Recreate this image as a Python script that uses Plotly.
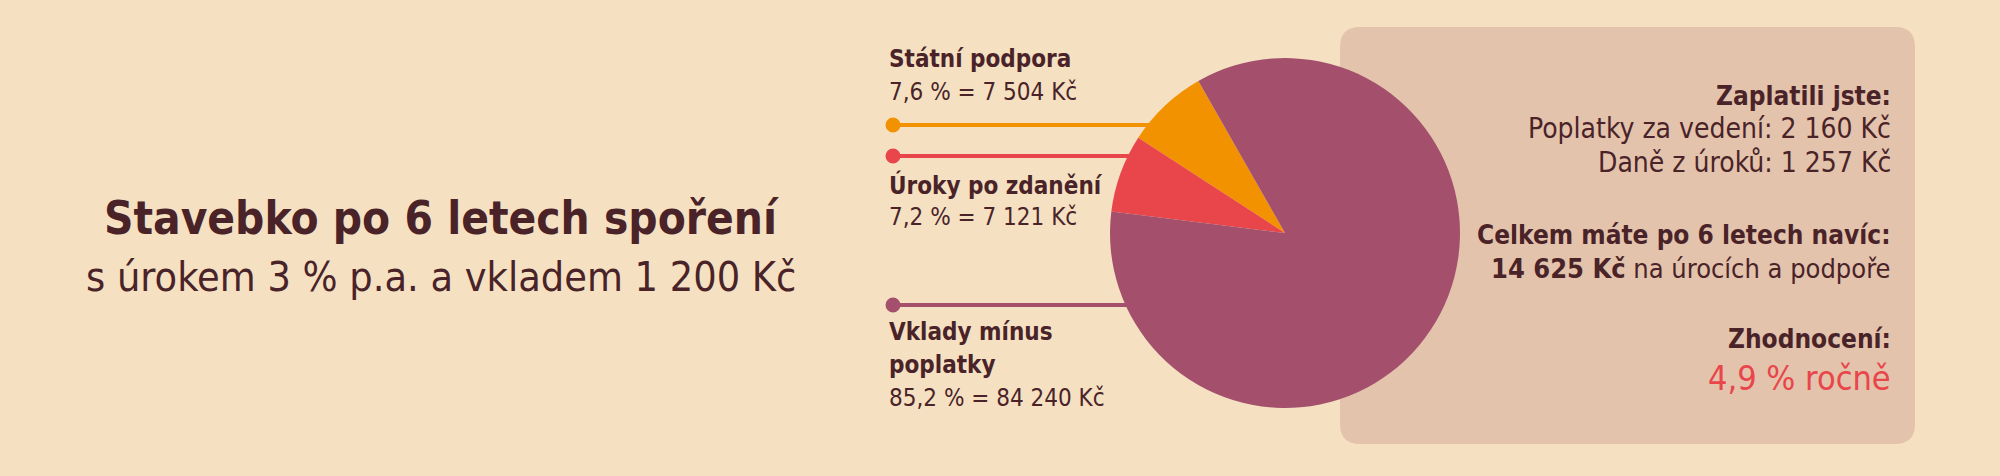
import math
import plotly.graph_objects as go

W, H = 2000, 476

# ---- data ----
slice_names = ["Státní podpora", "Úroky po zdanění", "Vklady mínus<br>poplatky"]
slice_values = [7504, 7121, 84240]          # Kč
slice_pct_text = ["7,6 %", "7,2 %", "85,2 %"]
slice_kc_text = ["7 504 Kč", "7 121 Kč", "84 240 Kč"]
slice_colors = ["#F39200", "#E8464B", "#A4506D"]

title_main = "Stavebko po 6 letech spoření"
title_sub = "s úrokem 3 % p.a. a vkladem 1 200 Kč"

paid_head = "Zaplatili jste:"
paid_lines = ["Poplatky za vedení: 2 160 Kč", "Daně z úroků: 1 257 Kč"]
total_head = "Celkem máte po 6 letech navíc:"
total_amount = "14 625 Kč"
total_rest = " na úrocích a podpoře"
yield_head = "Zhodnocení:"
yield_value = "4,9 % ročně"

# ---- style ----
BG = "#F5E1C2"
BOX = "#E3C3AC"
DARK = "#4A2329"
RED = "#E8464B"
FONT = "DejaVu Sans Condensed, DejaVu Sans, sans-serif"

def px(x):
    return x / W

def py(y):
    return 1 - y / H

cx, cy, r = 1285, 233, 175

fig = go.Figure()
fig.add_trace(go.Pie(
    values=slice_values,
    labels=[n.replace("<br>", " ") for n in slice_names],
    marker=dict(colors=slice_colors, line=dict(width=0)),
    sort=False,
    direction="counterclockwise",
    rotation=-57,
    textinfo="none",
    hoverinfo="label+value",
    showlegend=False,
    domain=dict(x=[px(cx - r), px(cx + r)], y=[py(cy + r), py(cy - r)]),
))

shapes = []
annotations = []

# right info box with rounded corners
bx0, bx1, by0, by1, rad = 1340, 1915, 27, 444, 20
path = (f"M {px(bx0 + rad)},{py(by0)} L {px(bx1 - rad)},{py(by0)} "
        f"Q {px(bx1)},{py(by0)} {px(bx1)},{py(by0 + rad)} "
        f"L {px(bx1)},{py(by1 - rad)} Q {px(bx1)},{py(by1)} {px(bx1 - rad)},{py(by1)} "
        f"L {px(bx0 + rad)},{py(by1)} Q {px(bx0)},{py(by1)} {px(bx0)},{py(by1 - rad)} "
        f"L {px(bx0)},{py(by0 + rad)} Q {px(bx0)},{py(by0)} {px(bx0 + rad)},{py(by0)} Z")
shapes.append(dict(type="path", path=path, xref="paper", yref="paper", layer="below",
                   fillcolor=BOX, line=dict(width=0)))

# leader lines with dots
line_y = [125, 156, 305]
dot_x = 893
for yy, col in zip(line_y, slice_colors):
    xe = cx - math.sqrt(max(r * r - (yy - cy) ** 2, 0)) + 6
    shapes.append(dict(type="line", xref="paper", yref="paper", layer="below",
                       x0=px(dot_x), x1=px(xe), y0=py(yy), y1=py(yy),
                       line=dict(color=col, width=4)))
    shapes.append(dict(type="circle", xref="paper", yref="paper", layer="below",
                       x0=px(dot_x - 7.5), x1=px(dot_x + 7.5),
                       y0=py(yy + 7.5), y1=py(yy - 7.5),
                       fillcolor=col, line=dict(width=0)))

def ann(text, x, y, size, color=DARK, bold=False, xanchor="left"):
    t = f"<b>{text}</b>" if bold else text
    annotations.append(dict(text=t, x=px(x), y=py(y), xref="paper", yref="paper",
                            xanchor=xanchor, yanchor="middle", showarrow=False,
                            font=dict(family=FONT, size=size, color=color)))

# title
ann(title_main, 441, 219, 45.5, bold=True, xanchor="center")
ann(title_sub, 441, 277, 41, xanchor="center")

# slice labels
lab_x = 887
name_y = [[59], [185], [332, 365]]
val_y = [92, 217, 398]
for names, ys, vy, p, k in zip(slice_names, name_y, val_y, slice_pct_text, slice_kc_text):
    for part, yy in zip(names.split("<br>"), ys):
        ann(part, lab_x, yy, 24, bold=True)
    ann(f"{p} = {k}", lab_x, vy, 24)

# right panel text
rx = 1893
ann(paid_head, rx, 96, 26, bold=True, xanchor="right")
ann(paid_lines[0], rx, 129, 28, xanchor="right")
ann(paid_lines[1], rx, 162, 28, xanchor="right")
ann(total_head, rx, 235, 26, bold=True, xanchor="right")
ann(f"<b>{total_amount}</b>{total_rest}", rx, 268, 27, xanchor="right")
ann(yield_head, rx, 339, 26, bold=True, xanchor="right")
ann(yield_value, rx, 378, 34, color=RED, xanchor="right")

fig.update_layout(
    width=W, height=H,
    margin=dict(l=0, r=0, t=0, b=0),
    paper_bgcolor=BG, plot_bgcolor=BG,
    shapes=shapes, annotations=annotations,
    font=dict(family=FONT, color=DARK),
)

fig.write_html("out.html", config=dict(displayModeBar=False))
